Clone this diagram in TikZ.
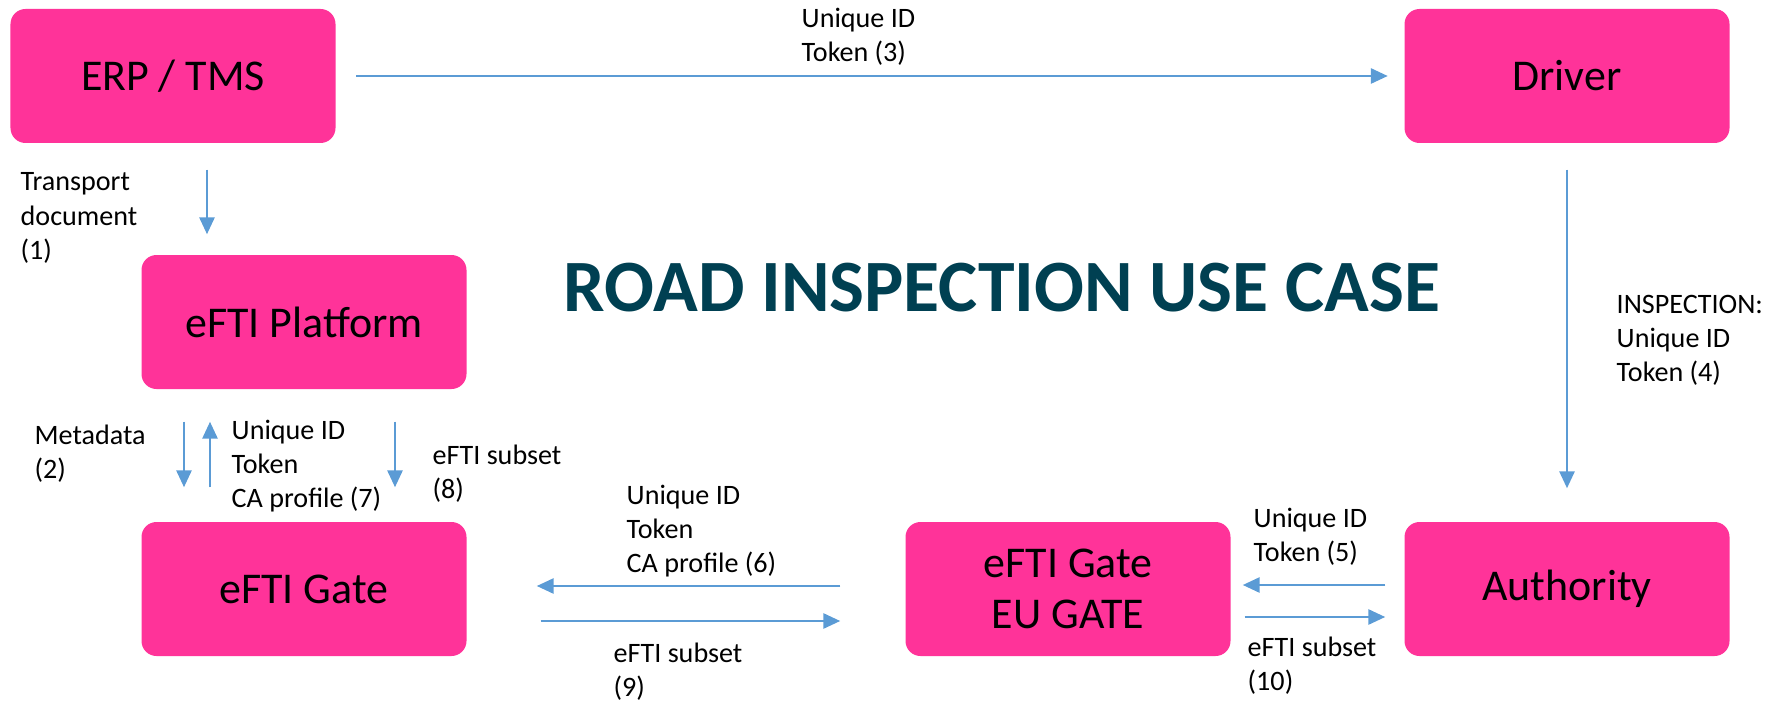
\documentclass[tikz,border=0pt]{standalone}
\usepackage{fontspec}
\setmainfont{Carlito}
\usetikzlibrary{arrows.meta}
\definecolor{efpink}{HTML}{FF3399}
\definecolor{efblue}{HTML}{5B9BD5}
\definecolor{eftitle}{HTML}{004052}
\tikzset{
actor/.style={fill=efpink,rounded corners=0.15cm,minimum width=3.25cm,minimum height=1.34cm,align=center,font=\fontsize{12.5}{14.6}\selectfont},
flow/.style={efblue,line width=0.8pt,-{Triangle[length=1.7mm,width=1.5mm]}},
lbl/.style={anchor=west,align=left,inner sep=0pt,font=\fontsize{8}{9.7}\selectfont}
}
\begin{document}
\begin{tikzpicture}
\useasboundingbox (0,0) rectangle (17.70,7.01);
%actors
\node[actor](erp) at (1.73,6.25){ERP / TMS};
\node[actor](driver) at (15.67,6.25){Driver};
\node[actor](platform) at (3.04,3.79){eFTI Platform};
\node[actor](gate) at (3.04,1.12){eFTI Gate};
\node[actor](eugate) at (10.68,1.12){eFTI Gate\\EU GATE};
\node[actor](authority) at (15.67,1.12){Authority};
\node[eftitle,font=\bfseries\fontsize{21}{25}\selectfont](title) at (10.02,4.13){ROAD INSPECTION USE CASE};
%flows
\draw[flow,shorten <=0.2cm,shorten >=0.16cm](erp)--(driver);
\node[lbl](l3) at (8.01,6.64){Unique ID\\Token (3)};
\draw[flow]([xshift=0.34cm,yshift=-0.26cm]erp.south)--([xshift=-0.97cm,yshift=0.2cm]platform.north);
\node[lbl](l1) at (0.20,4.83){Transport\\document\\(1)};
%
\draw[flow]([xshift=-1.2cm,yshift=-0.32cm]platform.south)--([xshift=-1.2cm,yshift=0.34cm]gate.north);
\node[lbl](l2) at (0.34,2.47){Metadata\\(2)};
\draw[flow]([xshift=-0.94cm,yshift=0.34cm]gate.north)--([xshift=-0.94cm,yshift=-0.32cm]platform.south);
\node[lbl](l7) at (2.31,2.35){Unique ID\\Token\\CA profile (7)};
\draw[flow]([xshift=0.91cm,yshift=-0.32cm]platform.south)--([xshift=0.91cm,yshift=0.34cm]gate.north);
\node[lbl](l8) at (4.32,2.27){eFTI subset\\(8)};
%
\draw[flow]([yshift=-0.26cm]driver.south)--([yshift=0.33cm]authority.north);
\node[lbl](l4) at (16.16,3.61){INSPECTION:\\Unique ID\\Token (4)};
%
\draw[flow]([xshift=-0.645cm,yshift=0.03cm]eugate.west)--([xshift=0.695cm,yshift=0.03cm]gate.east);
\node[lbl](l6) at (6.26,1.70){Unique ID\\Token\\CA profile (6)};
\draw[flow]([xshift=0.735cm,yshift=-0.32cm]gate.east)--([xshift=-0.645cm,yshift=-0.32cm]eugate.west);
\node[lbl](l9) at (6.13,0.29){eFTI subset\\(9)};
%
\draw[flow]([xshift=-0.185cm,yshift=0.04cm]authority.west)--([xshift=0.115cm,yshift=0.04cm]eugate.east);
\node[lbl](l5) at (12.53,1.64){Unique ID\\Token (5)};
\draw[flow]([xshift=0.135cm,yshift=-0.28cm]eugate.east)--([xshift=-0.185cm,yshift=-0.28cm]authority.west);
\node[lbl](l10) at (12.47,0.35){eFTI subset\\(10)};
\end{tikzpicture}
\end{document}
